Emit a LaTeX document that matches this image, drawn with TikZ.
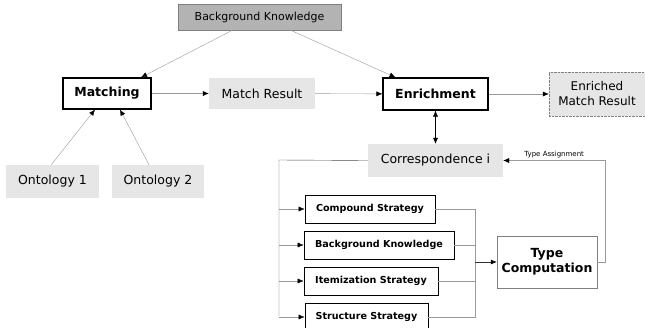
\documentclass[tikz,border=0pt]{standalone}
\usepackage{fontspec}
\setmainfont{DejaVu Sans}
\usetikzlibrary{arrows,arrows.meta,positioning}
\usepackage{xcolor}
\definecolor{boxgray}{HTML}{E6E6E6}
\definecolor{darkgray}{HTML}{B3B3B3}
\definecolor{linegray}{HTML}{9A9A9A}

\begin{document}
\begin{tikzpicture}[x=1pt, y=-1pt, >={Latex[length=6pt, width=5pt, color=black]},
    every node/.style={
    rectangle,
    inner sep=2pt,
    font=\fontsize{12.5}{15}\selectfont
},
    mainbox/.style={draw, very thick, fill=white, font=\fontsize{12.5}{15}\selectfont\bfseries},
    databox/.style={fill=boxgray},
    stratbox/.style={draw, thick, fill=white, minimum height=28pt, font=\fontsize{9.6}{11}\selectfont\bfseries},
    conn/.style={linegray, thin}
]

    \useasboundingbox (0,0) rectangle (645,327);


    \node (background_knowledge_top) [fill=darkgray, draw=gray, minimum width=163pt, minimum height=26pt, font=\fontsize{11}{13}\selectfont, shift={(259.5, 17)}]
    {
        Background Knowledge
    };

    \node (matching) [mainbox, minimum width=88pt, minimum height=31pt, shift={(107, 93.5)}]
    {
        Matching
    };

    \node (match_result) [databox, minimum width=106pt, minimum height=31pt, shift={(262, 93.5)}]
    {
        Match Result
    };

    \node (enrichment) [mainbox, minimum width=105pt, minimum height=32pt, shift={(435.5, 94)}]
    {
        Enrichment
    };

    \node (enriched_match_result) [databox, draw=gray, densely dotted, align=center, minimum width=96pt, minimum height=44pt, font=\fontsize{12}{15}\selectfont, shift={(597, 94)}]
    {
        Enriched\\Match Result
    };

    \node (ontology_1) [databox, minimum width=93pt, minimum height=33pt, shift={(52.5, 181.5)}]
    {
        Ontology 1
    };

    \node (ontology_2) [databox, minimum width=92pt, minimum height=33pt, shift={(158, 181.5)}]
    {
        Ontology 2
    };

    \node (correspondence_i) [databox, minimum width=135pt, minimum height=33pt, shift={(435.5, 160.5)}]
    {
        Correspondence i
    };



    \node (compound_strategy) [stratbox, minimum width=130pt, shift={(370, 209)}]
    {
        Compound Strategy
    };

    \node (background_knowledge_strategy) [stratbox, minimum width=150pt, shift={(379, 245)}]
    {
        Background Knowledge
    };

    \node (itemization_strategy) [stratbox, minimum width=134pt, shift={(371, 281)}]
    {
        Itemization Strategy
    };

    \node (structure_strategy) [stratbox, minimum width=123pt, shift={(366.5, 317)}]
    {
        Structure Strategy
    };

    \node (type_computation) [draw=gray, fill=white, align=center, minimum width=100pt, minimum height=52pt, font=\fontsize{12.5}{15}\selectfont\bfseries, shift={(547, 262)}]
    {
        Type\\Computation
    };

    \coordinate (tree_top) at (279, 160);
    \coordinate (tree_bottom) at (279, 316);
    \coordinate (join) at (475, 262);


    \draw[->, conn] ([xshift=-27pt]background_knowledge_top.south) to ([xshift=34pt]matching.north);
    \draw[->, conn] ([xshift=31pt]background_knowledge_top.south) to ([xshift=-40pt]enrichment.north);
    \draw[->, conn] ([xshift=-48pt]ontology_1.north east) to ([xshift=-12pt]matching.south);
    \draw[->, conn] ([xshift=-9pt]ontology_2.north) to ([xshift=13pt]matching.south);
    \draw[->, conn] (matching) to (match_result);
    \draw[->, conn] (match_result) to (enrichment);
    \draw[->, conn] (enrichment) to (enriched_match_result);
    \draw[<->] (enrichment) to (correspondence_i);

    \draw[black!70] (correspondence_i.west) -- (tree_top) -- (tree_bottom);
    \draw[->, conn] (tree_top |- compound_strategy.west) to (compound_strategy.west);
    \draw[->, conn] (tree_top |- background_knowledge_strategy.west) to (background_knowledge_strategy.west);
    \draw[->, conn] (tree_top |- itemization_strategy.west) to (itemization_strategy.west);
    \draw[->, conn] (tree_top |- structure_strategy.west) to (structure_strategy.west);

    \draw[conn] (compound_strategy.east) -| (join);
    \draw[conn] (background_knowledge_strategy.east) -| (join);
    \draw[conn] (itemization_strategy.east) -| (join);
    \draw[conn] (structure_strategy.east) -| (join);
    \draw[->, black!80, semithick] (join) to (type_computation.west);

    \draw[->, conn] (type_computation.east) -- ++(8, 0) |- (correspondence_i.east)
        node [pos=0.75, above, font=\fontsize{7}{8}\selectfont, black] {Type Assignment};


\end{tikzpicture}
\end{document}
